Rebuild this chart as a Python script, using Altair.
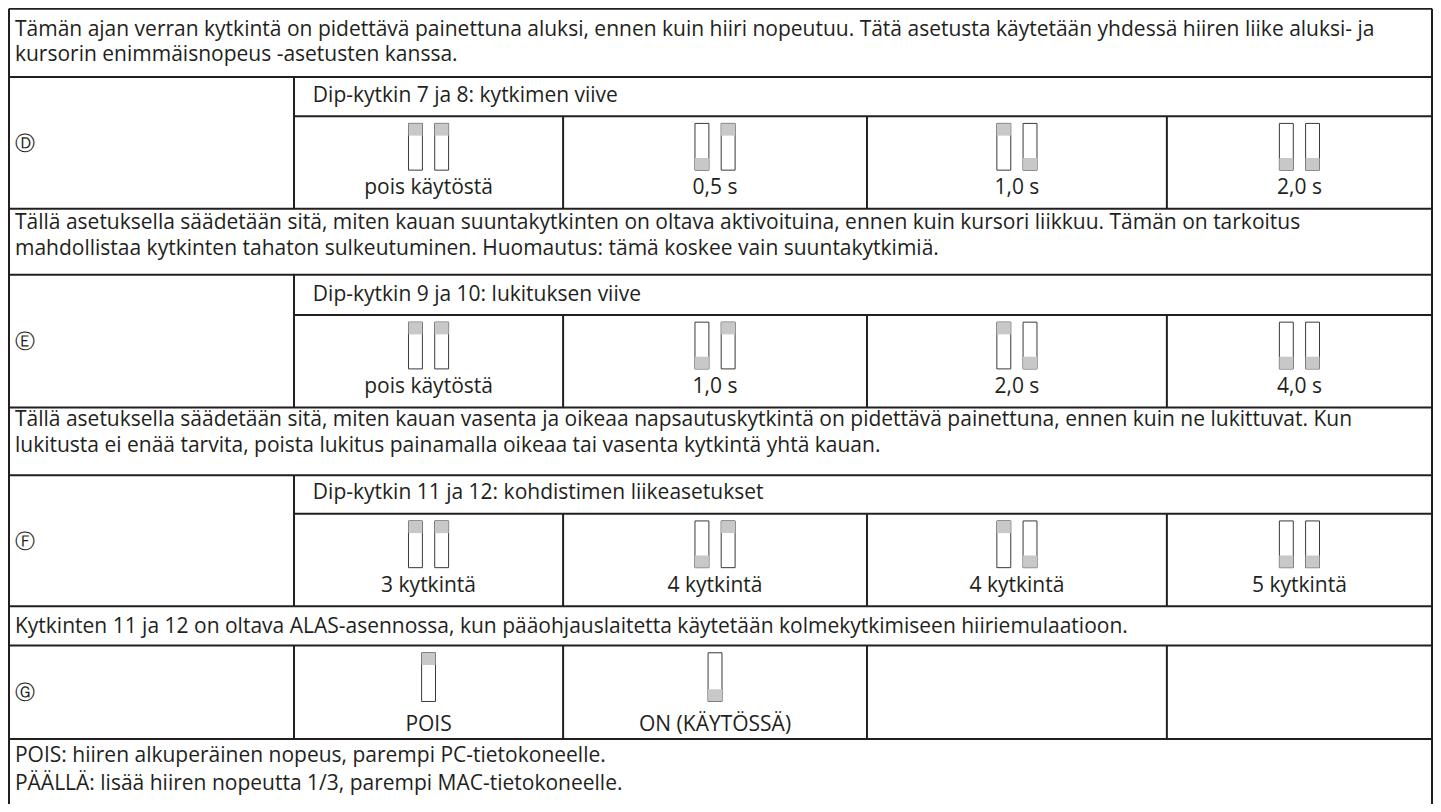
import altair as alt
import pandas as pd

# ---------------- content ----------------
paragraphs = [
    ["Tämän ajan verran kytkintä on pidettävä painettuna aluksi, ennen kuin hiiri nopeutuu. Tätä asetusta käytetään yhdessä hiiren liike aluksi- ja",
     "kursorin enimmäisnopeus -asetusten kanssa."],
    ["Tällä asetuksella säädetään sitä, miten kauan suuntakytkinten on oltava aktivoituina, ennen kuin kursori liikkuu. Tämän on tarkoitus",
     "mahdollistaa kytkinten tahaton sulkeutuminen. Huomautus: tämä koskee vain suuntakytkimiä."],
    ["Tällä asetuksella säädetään sitä, miten kauan vasenta ja oikeaa napsautuskytkintä on pidettävä painettuna, ennen kuin ne lukittuvat. Kun",
     "lukitusta ei enää tarvita, poista lukitus painamalla oikeaa tai vasenta kytkintä yhtä kauan."],
    ["Kytkinten 11 ja 12 on oltava ALAS-asennossa, kun pääohjauslaitetta käytetään kolmekytkimiseen hiiriemulaatioon."],
    ["POIS: hiiren alkuperäinen nopeus, parempi PC-tietokoneelle.",
     "PÄÄLLÄ: lisää hiiren nopeutta 1/3, parempi MAC-tietokoneelle."],
]
section_letters = ["Ⓓ", "Ⓔ", "Ⓕ", "Ⓖ"]
section_headers = [
    "Dip-kytkin 7 ja 8: kytkimen viive",
    "Dip-kytkin 9 ja 10: lukituksen viive",
    "Dip-kytkin 11 ja 12: kohdistimen liikeasetukset",
    "",
]
option_labels = [
    ["pois käytöstä", "0,5 s", "1,0 s", "2,0 s"],
    ["pois käytöstä", "1,0 s", "2,0 s", "4,0 s"],
    ["3 kytkintä", "4 kytkintä", "4 kytkintä", "5 kytkintä"],
    ["POIS", "ON (KÄYTÖSSÄ)"],
]
# U = grey slider at the top, D = grey slider at the bottom (one letter per switch)
switch_states = [
    ["UU", "DU", "UD", "DD"],
    ["UU", "DU", "UD", "DD"],
    ["UU", "DU", "UD", "DD"],
    ["U", "D"],
]

# ---------------- layout (reference pixel grid) ----------------
LEFT, RIGHT, TOP, BOTTOM = 4, 1437, 2.7, 812
COLS = [291, 562, 868, 1170, RIGHT]
TEXT_X = 10
# paragraph baselines
para_baselines = [[30, 56], [227, 253], [427, 453], [637], [768, 797]]
# sections: (top, header_bottom, bottom)
sections = [(72, 112, 206), (273, 314, 408), (477, 516, 610), (650, 650, 745)]
SW_W, SW_GAP, SW_H, SW_CAP = 14, 12.4, 47.5, 12.4
INK = "#231f20"
GREY = "#c8c8c8"
FONT = "Open Sans"
FS = 21

# ---------------- build tables ----------------
hlines, vlines = [], []
hlines.append(dict(x=LEFT, x2=RIGHT, y=TOP))
for (t, hb, b) in sections:
    hlines.append(dict(x=LEFT, x2=RIGHT, y=t))
    hlines.append(dict(x=LEFT, x2=RIGHT, y=b))
    if hb != t:
        hlines.append(dict(x=COLS[0], x2=RIGHT, y=hb))
    vlines.append(dict(x=COLS[0], y=t, y2=b))
    for cx in COLS[1:-1]:
        vlines.append(dict(x=cx, y=hb, y2=b))
vlines.append(dict(x=LEFT, y=TOP, y2=BOTTOM))
vlines.append(dict(x=RIGHT, y=TOP, y2=BOTTOM))
hdf = pd.DataFrame(hlines)
vdf = pd.DataFrame(vlines)

texts = []
for lines, bls in zip(paragraphs, para_baselines):
    for line, bl in zip(lines, bls):
        texts.append(dict(x=TEXT_X, y=bl, t=line))
tdf = pd.DataFrame(texts)

letters, headers, labels, frames, caps = [], [], [], [], []
for si, (t, hb, b) in enumerate(sections):
    letters.append(dict(x=10.5, y=(t + b) / 2 + 1, t=section_letters[si]))
    if section_headers[si]:
        headers.append(dict(x=COLS[0] + 19, y=hb - 14.5, t=section_headers[si]))
    sw_top = hb + 7.3
    h = SW_H if hb != t else 49.5
    for ci, (lab, st) in enumerate(zip(option_labels[si], switch_states[si])):
        cx = (COLS[ci] + COLS[ci + 1]) / 2
        labels.append(dict(x=cx, y=b - 14.5 if hb != t else b - 8.5, t=lab))
        n = len(st)
        total = n * SW_W + (n - 1) * SW_GAP
        x0 = cx - total / 2
        for k, s in enumerate(st):
            xa = x0 + k * (SW_W + SW_GAP)
            frames.append(dict(x=xa, x2=xa + SW_W, y=sw_top, y2=sw_top + h))
            if s == "U":
                caps.append(dict(x=xa, x2=xa + SW_W, y=sw_top, y2=sw_top + SW_CAP))
            else:
                caps.append(dict(x=xa, x2=xa + SW_W, y=sw_top + h - SW_CAP, y2=sw_top + h))

ldf, hdf2, labdf = pd.DataFrame(letters), pd.DataFrame(headers), pd.DataFrame(labels)
fdf, cdf = pd.DataFrame(frames), pd.DataFrame(caps)

# ---------------- chart ----------------
W, H = 1425, 796
xs = alt.Scale(domain=[3, 1438], nice=False, zero=False)
ys = alt.Scale(domain=[2, 811], reverse=True, nice=False, zero=False)
X = lambda f="x": alt.X(f"{f}:Q", scale=xs, axis=None)
Y = lambda f="y": alt.Y(f"{f}:Q", scale=ys, axis=None)

h_rules = alt.Chart(hdf).mark_rule(color=INK, strokeWidth=2).encode(x=X(), x2="x2:Q", y=Y())
v_rules = alt.Chart(vdf).mark_rule(color=INK, strokeWidth=2).encode(x=X(), y=Y(), y2="y2:Q")
frame_l = alt.Chart(fdf).mark_rect(fill="white", stroke="#3a3a3a", strokeWidth=1).encode(
    x=X(), x2="x2:Q", y=Y(), y2="y2:Q")
cap_l = alt.Chart(cdf).mark_rect(fill=GREY, stroke=None).encode(
    x=X(), x2="x2:Q", y=Y(), y2="y2:Q")
para_l = alt.Chart(tdf).mark_text(font=FONT, fontSize=FS, color=INK, align="left",
                                  baseline="alphabetic").encode(x=X(), y=Y(), text="t:N")
head_l = alt.Chart(hdf2).mark_text(font=FONT, fontSize=FS, color=INK, align="left",
                                   baseline="alphabetic").encode(x=X(), y=Y(), text="t:N")
lab_l = alt.Chart(labdf).mark_text(font=FONT, fontSize=FS, color=INK, align="center",
                                   baseline="alphabetic").encode(x=X(), y=Y(), text="t:N")
let_l = alt.Chart(ldf).mark_text(font="DejaVu Sans", fontSize=20, color=INK, align="left",
                                 baseline="middle").encode(x=X(), y=Y(), text="t:N")

chart = alt.layer(h_rules, v_rules, frame_l, cap_l, para_l, head_l, lab_l, let_l).properties(
    width=W, height=H, padding=0, autosize="none"
).configure_view(stroke=None)

chart.save("out.html", embed_options={"renderer": "svg", "actions": False})
